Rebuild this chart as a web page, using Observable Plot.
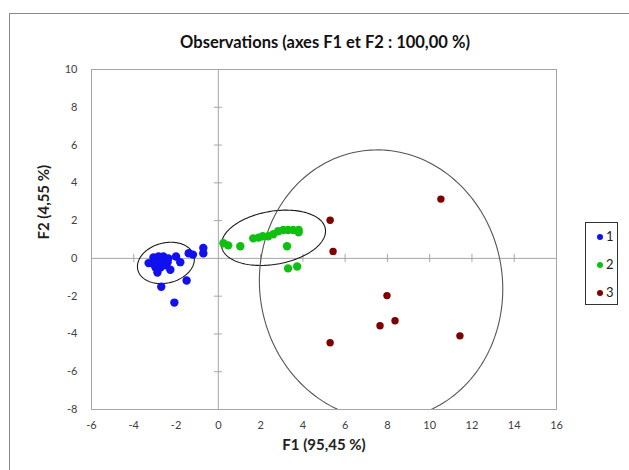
<!DOCTYPE html>
<html>
<head>
<meta charset="utf-8">
<script src="https://cdn.jsdelivr.net/npm/d3@7"></script>
<script src="https://cdn.jsdelivr.net/npm/@observablehq/plot@0.6"></script>
<style>
  html, body { margin: 0; padding: 0; background: #fff; overflow: hidden; }
  #wrap { position: relative; width: 629px; height: 470px; overflow: hidden; font-family: Lato, "Open Sans", sans-serif; }
  #border { position: absolute; left: 9px; top: 13px; width: 700px; height: 520px; border: 1px solid #8a8a8a; box-sizing: border-box; }
  #chart { position: absolute; left: 0; top: 0; }
  #legend { position: absolute; left: 585px; top: 222px; width: 33px; height: 83px; border: 1px solid #333; box-sizing: border-box; background: #fff; }
  .item { position: absolute; left: 0; width: 33px; height: 16px; font-size: 13px; color: #222; }
  .item .sw { position: absolute; left: 11px; top: 5px; width: 6px; height: 6px; border-radius: 50%; }
  .item .lb { position: absolute; left: 20px; top: -1px; }
</style>
</head>
<body>
<div id="wrap">
  <div id="border"></div>
  <div id="chart"></div>
  <div id="legend"></div>
</div>
<script>
// ---- data ----
const classes = ["1", "2", "3"];
const classColors = ["#1010f0", "#10c010", "#7f0000"];

const blueX = [-3.3, -3.07, -2.83, -2.6, -2.36, -3.1, -2.88, -2.64, -2.4, -2.97, -2.74, -2.5, -2.88, -2.27, -2.0, -1.8, -1.4, -1.2, -0.71, -0.71, -1.5, -2.7, -2.08];
const blueY = [-0.25, 0.05, 0.1, 0.1, 0.0, -0.27, -0.2, -0.2, -0.2, -0.48, -0.48, -0.37, -0.75, -0.6, 0.1, -0.2, 0.27, 0.2, 0.55, 0.27, -1.17, -1.5, -2.34];

const greenX = [0.24, 0.47, 1.04, 1.65, 1.9, 2.1, 2.36, 2.6, 2.83, 3.07, 3.3, 3.54, 3.8, 3.8, 3.25, 3.3, 3.73];
const greenY = [0.8, 0.69, 0.64, 1.06, 1.1, 1.17, 1.17, 1.28, 1.44, 1.5, 1.5, 1.5, 1.5, 1.38, 0.64, -0.53, -0.43];

const redX = [10.53, 5.29, 5.43, 7.98, 7.65, 8.36, 11.43, 5.29];
const redY = [3.14, 2.02, 0.37, -1.97, -3.57, -3.3, -4.1, -4.47];

// confidence ellipses per class
const ellCX = [-2.48, 2.61, 7.7];
const ellCY = [-0.24, 1.09, -1.4];
const ellA = [1.38, 2.5, 7.15];
const ellB = [1.05, 1.4, 5.75];
const ellAngle = [20, 12, 94.1];
const ellStroke = ["#1a1a1a", "#1a1a1a", "#555555"];

const xTicks = [-6, -4, -2, 0, 2, 4, 6, 8, 10, 12, 14, 16];
const yTicks = [-8, -6, -4, -2, 0, 2, 4, 6, 8, 10];

const title = "Observations (axes F1 et F2 : 100,00 %)";
const xLabel = "F1 (95,45 %)";
const yLabel = "F2 (4,55 %)";

// ---- build ----
const points = [
  ...blueX.map((x, i) => ({x, y: blueY[i], c: "1"})),
  ...greenX.map((x, i) => ({x, y: greenY[i], c: "2"})),
  ...redX.map((x, i) => ({x, y: redY[i], c: "3"}))
];

const ellipses = classes.map((c, k) => {
  const th = ellAngle[k] * Math.PI / 180;
  return d3.range(0, 361, 2).map(deg => {
    const t = deg * Math.PI / 180;
    const u = ellA[k] * Math.cos(t), v = ellB[k] * Math.sin(t);
    return {x: ellCX[k] + u * Math.cos(th) - v * Math.sin(th),
            y: ellCY[k] + u * Math.sin(th) + v * Math.cos(th), c};
  });
});

const gray = "#a6a6a6";
const fontFam = "Lato, 'Open Sans', sans-serif";
const fmt = d => String(d);

const chart = Plot.plot({
  width: 629,
  height: 470,
  marginLeft: 91,
  marginRight: 73,
  marginTop: 69,
  marginBottom: 61,
  style: {fontFamily: fontFam, background: "transparent", overflow: "visible"},
  x: {domain: [-6, 16]},
  y: {domain: [-8, 10]},
  color: {domain: classes, range: classColors},
  marks: [
    Plot.frame({stroke: gray}),
    Plot.ruleX([0], {stroke: gray}),
    Plot.ruleY([0], {stroke: gray}),
    Plot.ruleX(xTicks.filter(d => d > -6 && d < 16 && d !== 0), {x: d => d, y1: 0, y2: 0, insetTop: -4, insetBottom: -4, stroke: gray}),
    Plot.ruleY(yTicks.filter(d => d > -8 && d < 10 && d !== 0), {y: d => d, x1: 0, x2: 0, insetLeft: -4, insetRight: -4, stroke: gray}),
    Plot.axisX(xTicks, {anchor: "bottom", tickSize: 0, tickPadding: 12, fontSize: 11, fill: "#404040", label: null, tickFormat: fmt}),
    Plot.axisY(yTicks, {anchor: "left", tickSize: 0, tickPadding: 14, fontSize: 11, fill: "#404040", label: null, tickFormat: fmt}),
    ...ellipses.map((e, k) => Plot.line(e, {x: "x", y: "y", stroke: ellStroke[k], strokeWidth: 1.1, clip: true})),
    Plot.dot(points.filter(d => d.c !== "3"), {x: "x", y: "y", r: 4.2, fill: "c", stroke: null}),
    Plot.dot(points.filter(d => d.c === "3"), {x: "x", y: "y", r: 3.7, fill: "c", stroke: null}),
    Plot.text([title], {frameAnchor: "top", dy: -33, fontSize: 16.5, fontWeight: "bold", fill: "#111", text: d => d, dx: 1}),
    Plot.text([xLabel], {frameAnchor: "bottom", dy: 40, fontSize: 15, fontWeight: "bold", fill: "#222", text: d => d}),
    Plot.text([yLabel], {frameAnchor: "left", dx: -47, rotate: -90, fontSize: 15, fontWeight: "bold", fill: "#222", text: d => d})
  ]
});
document.getElementById("chart").appendChild(chart);

// legend
const legend = document.getElementById("legend");
const tops = [6, 34, 62];
classes.forEach((c, i) => {
  const item = document.createElement("div");
  item.className = "item";
  item.style.top = tops[i] + "px";
  item.innerHTML = `<span class="sw" style="background:${classColors[i]}"></span><span class="lb">${c}</span>`;
  legend.appendChild(item);
});
</script>
</body>
</html>
